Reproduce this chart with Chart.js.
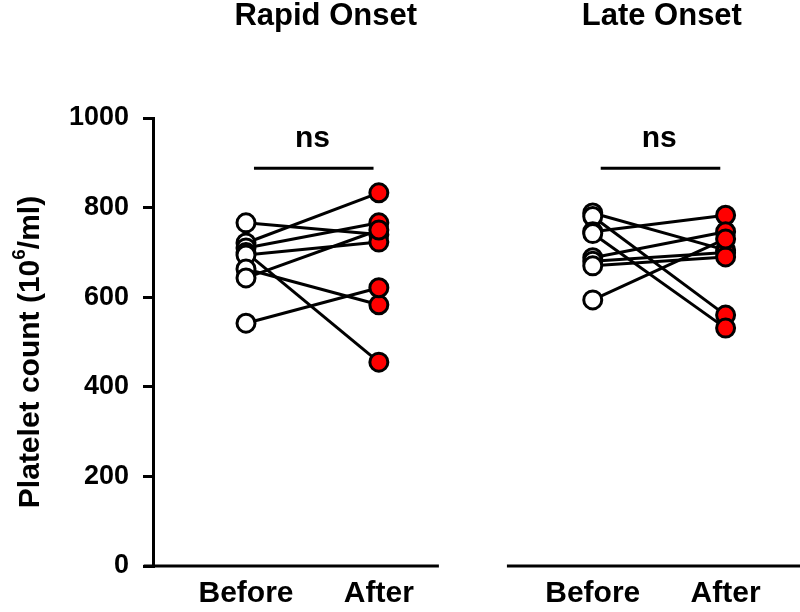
<!DOCTYPE html>
<html>
<head>
<meta charset="utf-8">
<script src="https://cdn.jsdelivr.net/npm/chart.js@4.4.0/dist/chart.umd.min.js"></script>
<style>
html,body{margin:0;padding:0;background:#fff;}
</style>
</head>
<body>
<canvas id="chartPlatelets" width="800" height="612"></canvas>
<script>
// data
var groups = ["Rapid Onset", "Late Onset"];
var phaseLabels = ["Before", "After"];
var rapidBefore = [766, 721, 710, 700, 694, 663, 643, 542];
var rapidAfter  = [740, 833, 766, 455, 723, 583, 750, 621];
var lateBefore  = [788, 780, 746, 742, 688, 680, 670, 594];
var lateAfter   = [705, 560, 783, 531, 746, 700, 690, 730];
var groupSignif = ["ns", "ns"];
var yTicks = [0, 200, 400, 600, 800, 1000];
var groupStart = [0, 2.61];

var FONT = "'Liberation Sans', Arial, sans-serif";

function byId(id){ return document.getElementById(id); }

var pairs = [[rapidBefore, rapidAfter], [lateBefore, lateAfter]];
var datasets = [];
var beforePts = [], afterPts = [];

pairs.forEach(function(p, g){
    var x0 = groupStart[g];
    for (var i = 0; i < p[0].length; i++){
        datasets.push({
            data: [{x: x0, y: p[0][i]}, {x: x0 + 1, y: p[1][i]}],
            showLine: true,
            borderColor: "#000",
            borderWidth: 3,
            pointRadius: 0,
            order: 2
        });
        beforePts.push({x: x0, y: p[0][i]});
        afterPts.push({x: x0 + 1, y: p[1][i]});
    }
});

datasets.push({
    data: beforePts, pointRadius: 9, pointBackgroundColor: "#fff",
    pointBorderColor: "#000", pointBorderWidth: 3, order: 1
});
datasets.push({
    data: afterPts, pointRadius: 9, pointBackgroundColor: "#f00",
    pointBorderColor: "#000", pointBorderWidth: 3, order: 1
});

var tickPositions = [];
groupStart.forEach(function(s){ tickPositions.push(s, s + 1); });

// axis pieces, brackets and texts
var extras = {
    id: "extras",
    afterDraw: function(chart){
        var ctx = chart.ctx, xs = chart.scales.x, ys = chart.scales.y;
        var yb = ys.getPixelForValue(0);
        ctx.save();
        ctx.strokeStyle = "#000";
        ctx.fillStyle = "#000";
        ctx.lineWidth = 3;
        [[-0.77, 1.452], [1.964, 4.17]].forEach(function(seg){
            ctx.beginPath();
            ctx.moveTo(xs.getPixelForValue(seg[0]), yb);
            ctx.lineTo(xs.getPixelForValue(seg[1]), yb);
            ctx.stroke();
        });

        ctx.textAlign = "center";
        ctx.textBaseline = "alphabetic";
        var titleX = [0.6, 3.13];
        groups.forEach(function(name, g){
            var s = groupStart[g];
            ctx.font = "bold 31px " + FONT;
            ctx.fillText(name, xs.getPixelForValue(titleX[g]), 25);
            var yl = ys.getPixelForValue(888);
            ctx.lineWidth = 3;
            ctx.beginPath();
            ctx.moveTo(xs.getPixelForValue(s + 0.06), yl);
            ctx.lineTo(xs.getPixelForValue(s + 0.96), yl);
            ctx.stroke();
            ctx.font = "bold 30px " + FONT;
            ctx.fillText(groupSignif[g], xs.getPixelForValue(s + 0.5), ys.getPixelForValue(935));
        });

        // y title with superscript
        ctx.translate(31, 352);
        ctx.rotate(-Math.PI / 2);
        ctx.textAlign = "left";
        ctx.textBaseline = "middle";
        var p1 = "Platelet count (10", sup = "6", p2 = "/ml)";
        ctx.font = "bold 30px " + FONT;
        var w1 = ctx.measureText(p1).width, w2 = ctx.measureText(p2).width;
        ctx.font = "bold 19px " + FONT;
        var ws = ctx.measureText(sup).width;
        var x = -(w1 + ws + w2) / 2;
        ctx.font = "bold 30px " + FONT;
        ctx.fillText(p1, x, 0);
        ctx.font = "bold 19px " + FONT;
        ctx.fillText(sup, x + w1, -11);
        ctx.font = "bold 30px " + FONT;
        ctx.fillText(p2, x + w1 + ws, 0);
        ctx.restore();
    }
};

var myChart = new Chart(byId("chartPlatelets").getContext("2d"), {
    type: "scatter",
    data: {datasets: datasets},
    plugins: [extras],
    options: {
        responsive: false,
        animation: false,
        layout: {autoPadding: false, padding: {top: 118, right: 0, bottom: 0, left: 0}},
        plugins: {legend: {display: false}, tooltip: {enabled: false}},
        scales: {
            x: {
                type: "linear", min: -0.7, max: 4.17,
                border: {display: false},
                grid: {display: false},
                afterBuildTicks: function(s){
                    s.ticks = tickPositions.map(function(v){ return {value: v}; });
                },
                afterFit: function(s){
                    s.height = 46;
                    s.paddingLeft = 0;
                    s.paddingRight = 0;
                },
                ticks: {
                    color: "#000", padding: 2, maxRotation: 0, autoSkip: false,
                    font: {family: FONT, size: 30, weight: "bold"},
                    callback: function(v, i){ return phaseLabels[i % 2]; }
                }
            },
            y: {
                min: 0, max: 1000,
                border: {display: true, color: "#000", width: 3},
                grid: {drawOnChartArea: false, drawTicks: true, tickLength: 10, color: "#000", lineWidth: 3},
                afterBuildTicks: function(s){
                    s.ticks = yTicks.map(function(v){ return {value: v}; });
                },
                afterFit: function(s){
                    s.width = 153;
                    s.paddingTop = 0;
                    s.paddingBottom = 0;
                },
                ticks: {
                    color: "#000", padding: 14,
                    font: {family: FONT, size: 27, weight: "bold"},
                    callback: function(v){ return String(v); }
                }
            }
        }
    }
});
</script>
</body>
</html>
